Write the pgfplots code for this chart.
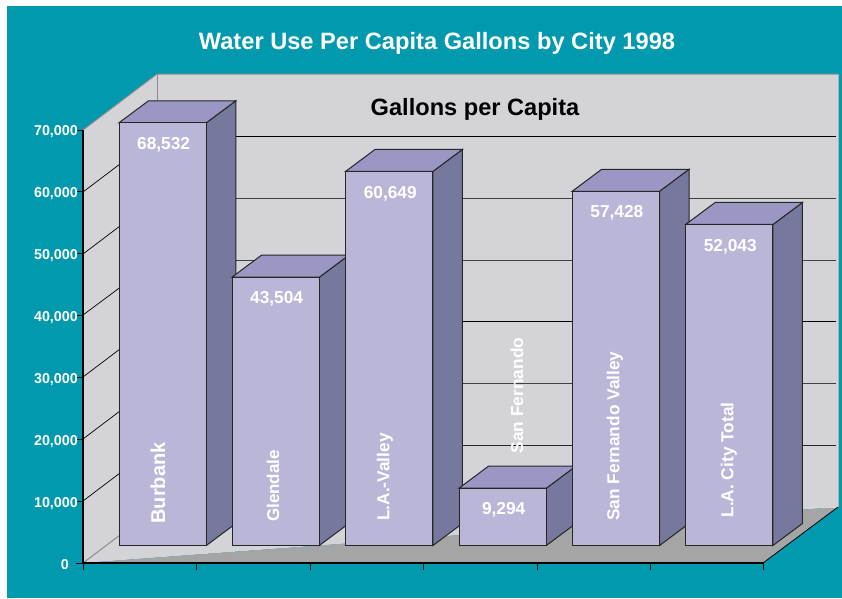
\documentclass[border=0pt]{standalone}
\usepackage{fontspec}
\setmainfont{Liberation Sans}
\usepackage{pgfplots}
\pgfplotsset{compat=1.18}
\definecolor{teal1}{HTML}{0099AE}
\definecolor{wall}{HTML}{D4D3D8}
\definecolor{floor1}{HTML}{A5A5A5}
\definecolor{barfront}{HTML}{BAB6D8}
\definecolor{bartop}{HTML}{9B97C5}
\definecolor{barside}{HTML}{77789E}
\definecolor{edge1}{HTML}{8C8C8C}
\newcommand{\fs}[1]{\fontsize{#1}{#1}\selectfont\bfseries}
% side and top of one bar: x0 x1 back-x0 back-x1 value back-value
\newcommand{\barbox}[6]{%
  \addplot[fill=barside,draw=black!85,line width=1pt] coordinates {(#2,0) (#2,#5) (#4,#6) (#4,3567)} --cycle;
  \addplot[fill=bartop,draw=black!85,line width=1pt] coordinates {(#1,#5) (#2,#5) (#4,#6) (#3,#6)} --cycle;
}
\begin{document}
\begin{tikzpicture}
% page, walls and floor, in pixel coordinates of the picture
\begin{axis}[at={(0,0)},anchor=south west,scale only axis,width=842pt,height=598pt,
  xmin=0,xmax=842,ymin=0,ymax=598,y dir=reverse,hide axis,clip=false]
  \addplot[fill=white,draw=none] coordinates {(0,0) (842,0) (842,598) (0,598)} --cycle;
  \addplot[fill=teal1,draw=none] coordinates {(7,6) (842,6) (842,598) (7,598)} --cycle;
  \addplot[fill=wall,draw=none] coordinates {(157,74) (838,74) (838,507) (157,507)} --cycle;
  \addplot[fill=wall,draw=none] coordinates {(83,130) (157,74) (157,507) (83,563)} --cycle;
  \addplot[fill=wall,draw=none] coordinates {(83,563) (157,507) (838,507)} --cycle;
  \addplot[fill=floor1,draw=none] coordinates {(83,563) (838,507) (763,563)} --cycle;
  % back wall grid
  \addplot[black,line width=.8pt] coordinates {(157,136) (836,136)};
  \addplot[black!75,line width=.9pt] coordinates {(157,198) (836,198)};
  \addplot[black!75,line width=.9pt] coordinates {(157,260) (836,260)};
  \addplot[black,line width=.8pt] coordinates {(157,321) (836,321)};
  \addplot[black!75,line width=.9pt] coordinates {(157,383) (836,383)};
  \addplot[black!85,line width=.8pt] coordinates {(157,445) (836,445)};
  % side wall grid
  \addplot[black,line width=.7pt] coordinates {(83,192) (157,136)};
  \addplot[black,line width=.7pt] coordinates {(83,254) (157,198)};
  \addplot[black,line width=.7pt] coordinates {(83,315) (157,260)};
  \addplot[black,line width=.7pt] coordinates {(83,377) (157,321)};
  \addplot[black,line width=.7pt] coordinates {(83,439) (157,383)};
  \addplot[black,line width=.7pt] coordinates {(83,501) (157,445)};
  % wall edges
  \addplot[edge1,line width=1pt] coordinates {(83,130) (157,74) (838,74)};
  \addplot[edge1,line width=.8pt] coordinates {(157,74) (157,507)};
  \addplot[black!30,line width=1pt] coordinates {(838,74) (838,507)};
  \addplot[edge1,line width=1pt] coordinates {(83,563) (157,507)};
  \addplot[black!15,line width=.8pt] coordinates {(157,507) (838,507)};
  \addplot[black,line width=.8pt] coordinates {(763,563) (838,507)};
  \node[white,font=\fs{23.65}] at (axis cs:437,43.5) {Water Use Per Capita Gallons by City 1998};
  \node[black,font=\fs{23.6}] at (axis cs:475,109.5) {Gallons per Capita};
\end{axis}
% bars: x in pixels, y in gallons
\begin{axis}[at={(0,52.5pt)},anchor=south west,scale only axis,width=842pt,height=545.5pt,
  xmin=0,xmax=842,ymin=0,ymax=88440,hide axis,clip=false,
  /pgf/number format/assume math mode=true,/pgf/number format/1000 sep={,}]
  \barbox{119}{206.3}{148.5}{235.8}{68532}{72099}
  \barbox{232}{319.3}{261.5}{348.8}{43504}{47071}
  \barbox{345.6}{432.9}{375.1}{462.4}{60649}{64216}
  \barbox{459}{546.3}{488.5}{575.8}{9294}{12861}
  \barbox{572.2}{659.5}{601.7}{689}{57428}{60995}
  \barbox{685.6}{772.9}{715.1}{802.4}{52043}{55610}
  \addplot[ybar,bar width=87.3pt,bar shift=0pt,fill=barfront,draw=black!85,line width=1pt,
    nodes near coords,
    every node near coord/.append style={anchor=center,xshift=1pt,yshift=-22pt,white,font=\fs{17.3}}]
    coordinates {(162.65,68532) (275.65,43504) (389.25,60649) (502.65,9294) (615.85,57428) (729.25,52043)};
  \node[white,rotate=90,font=\fs{20}] at (axis cs:158,10130) {Burbank};
  \node[white,rotate=90,font=\fs{17}] at (axis cs:273,9650) {Glendale};
  \node[white,rotate=90,font=\fs{17.3}] at (axis cs:385,11100) {L.A.-Valley};
  \node[white,rotate=90,font=\fs{17.3}] at (axis cs:517,24320) {San Fernando};
  \node[white,rotate=90,font=\fs{17.3}] at (axis cs:615,17750) {San Fernando Valley};
  \node[white,rotate=90,font=\fs{17.3}] at (axis cs:729,13860) {L.A. City Total};
\end{axis}
% value axis in the front plane
\begin{axis}[at={(83pt,35pt)},anchor=south west,scale only axis,width=680pt,height=433pt,
  xmin=83,xmax=763,ymin=0,ymax=70000,axis lines*=left,
  axis line style={black,line width=1.4pt},
  xtick={83,196,310,423,537,650,763},xticklabels={},
  ytick={10000,20000,30000,40000,50000,60000,70000},
  extra y ticks={0},extra y tick style={yticklabel style={xshift=-9pt}},
  tick align=outside,major tick length=7pt,
  tick style={black,line width=1pt},
  scaled y ticks=false,
  /pgf/number format/assume math mode=true,/pgf/number format/1000 sep={,},
  yticklabel style={white,font=\fs{14.3},yshift=-2pt,xshift=3pt},
  y tick label style={inner sep=1pt}]
  \addplot[draw=none] coordinates {(83,0) (763,70000)};
\end{axis}
\end{tikzpicture}
\end{document}
